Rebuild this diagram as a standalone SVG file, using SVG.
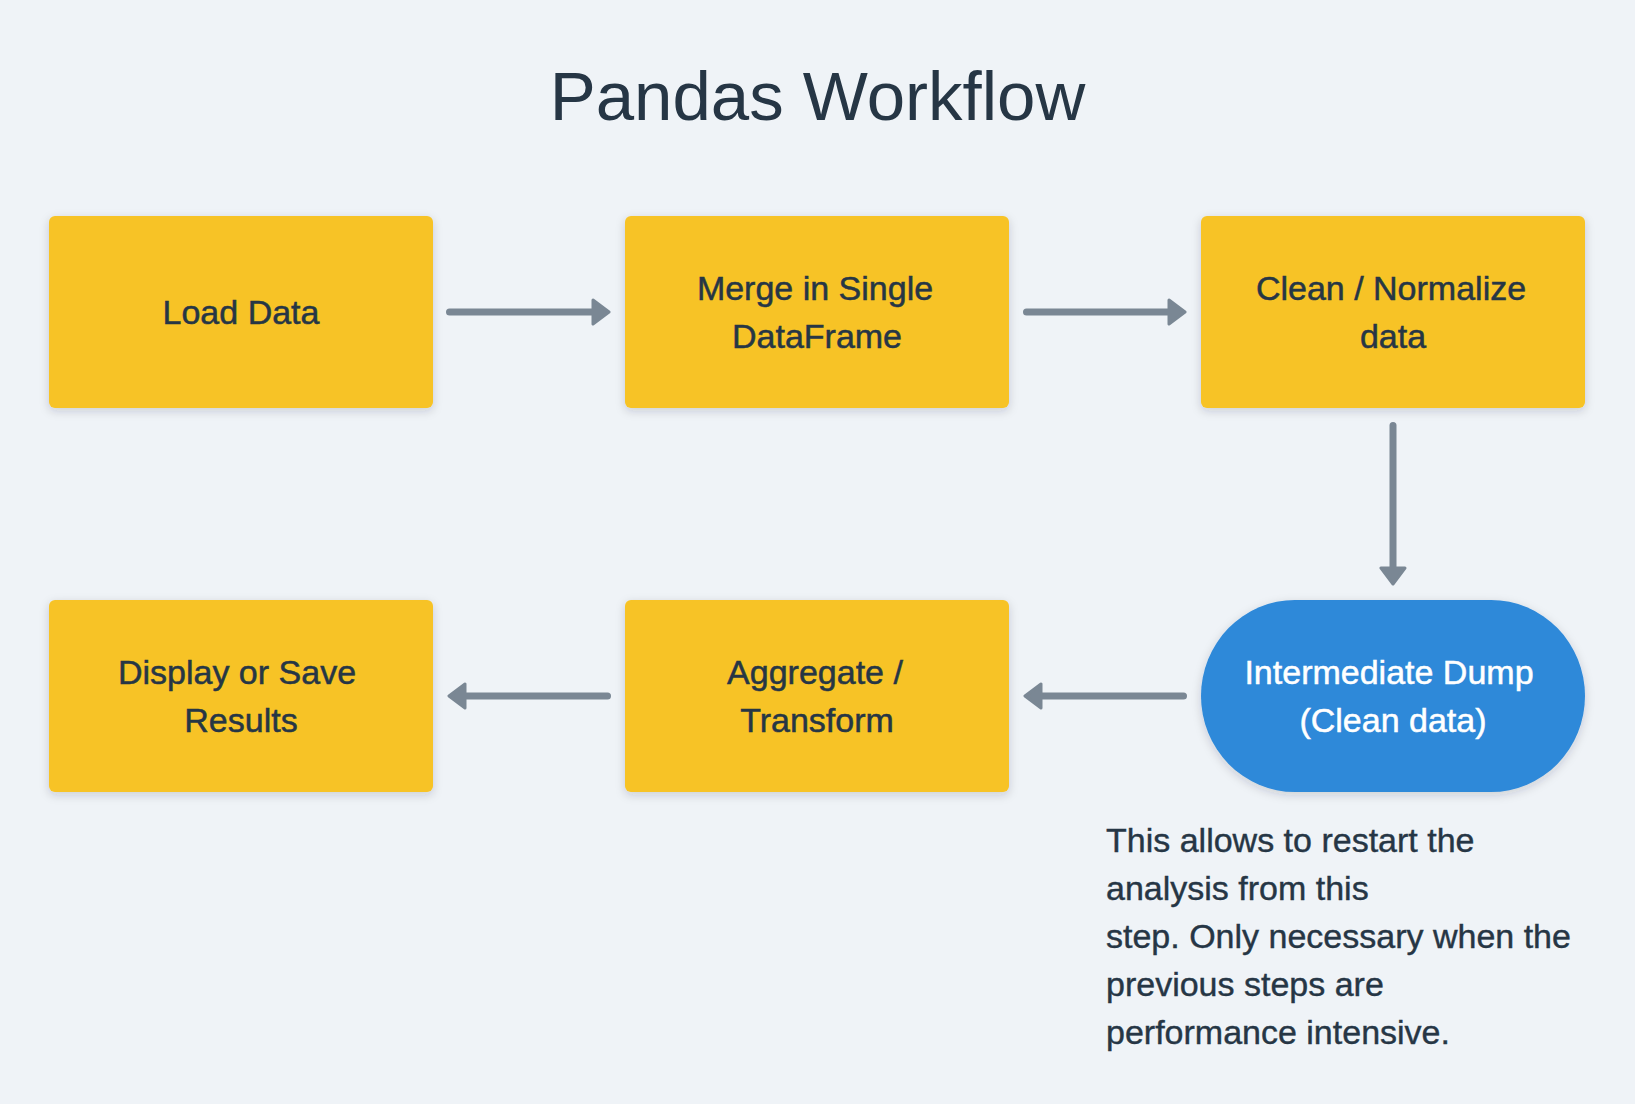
<svg xmlns="http://www.w3.org/2000/svg" width="1635" height="1104" viewBox="0 0 1635 1104">
  <style>
    .bg { fill: #eff3f7; }
    .box { fill: #f7c325; filter: url(#shadow); }
    .blue { fill: #2e89d9; filter: url(#shadow); }
    .title { font-family: "Liberation Sans", Arial, sans-serif; font-size: 69px; fill: #263645; text-anchor: middle; }
    .label { font-family: "Liberation Sans", Arial, sans-serif; font-size: 34px; fill: #263645; stroke: #263645; stroke-width: 0.5px; text-anchor: middle; }
    .label-w { font-family: "Liberation Sans", Arial, sans-serif; font-size: 34px; fill: #ffffff; stroke: #ffffff; stroke-width: 0.5px; text-anchor: middle; }
    .note { font-family: "Liberation Sans", Arial, sans-serif; font-size: 34px; fill: #263645; stroke: #263645; stroke-width: 0.4px; }
    .conn { stroke: #7a8794; stroke-width: 7; stroke-linecap: round; fill: none; marker-end: url(#arrow); }
  </style>
  <defs>
    <filter id="shadow" x="-10%" y="-10%" width="120%" height="130%">
      <feDropShadow dx="0" dy="3" stdDeviation="5" flood-color="#1e2a38" flood-opacity="0.18"/>
    </filter>
    <marker id="arrow" viewBox="0 0 20 28" markerWidth="20" markerHeight="28" markerUnits="userSpaceOnUse" refX="2" refY="14" orient="auto">
      <path d="M2,2 L18,14 L2,26 Z" fill="#7a8794" stroke="#7a8794" stroke-width="3" stroke-linejoin="round"/>
    </marker>
  </defs>
  <rect class="bg" x="0" y="0" width="1635" height="1104"/>
  <text class="title" x="817.5" y="120">Pandas Workflow</text>

  <g id="load-data">
    <rect class="box" x="49" y="216" width="384" height="192" rx="6"/>
    <text class="label" x="241" y="324">Load Data</text>
  </g>
  <g id="merge">
    <rect class="box" x="625" y="216" width="384" height="192" rx="6"/>
    <text class="label" x="815" y="300">Merge in Single</text>
    <text class="label" x="817" y="348">DataFrame</text>
  </g>
  <g id="clean">
    <rect class="box" x="1201" y="216" width="384" height="192" rx="6"/>
    <text class="label" x="1391" y="300">Clean / Normalize</text>
    <text class="label" x="1393" y="348">data</text>
  </g>
  <g id="dump">
    <rect class="blue" x="1201" y="600" width="384" height="192" rx="94" ry="96"/>
    <text class="label-w" x="1389" y="684">Intermediate Dump</text>
    <text class="label-w" x="1393" y="732">(Clean data)</text>
  </g>
  <g id="aggregate">
    <rect class="box" x="625" y="600" width="384" height="192" rx="6"/>
    <text class="label" x="815" y="684">Aggregate /</text>
    <text class="label" x="817" y="732">Transform</text>
  </g>
  <g id="display">
    <rect class="box" x="49" y="600" width="384" height="192" rx="6"/>
    <text class="label" x="237" y="684">Display or Save</text>
    <text class="label" x="241" y="732">Results</text>
  </g>
  <g id="note">
    <text class="note" x="1106" y="852">This allows to restart the</text>
    <text class="note" x="1106" y="900">analysis from this</text>
    <text class="note" x="1106" y="948">step. Only necessary when the</text>
    <text class="note" x="1106" y="996">previous steps are</text>
    <text class="note" x="1106" y="1044">performance intensive.</text>
  </g>

  <g id="connectors">
    <line class="conn" x1="449.5" y1="312" x2="593" y2="312"/>
    <line class="conn" x1="1026.5" y1="312" x2="1169" y2="312"/>
    <line class="conn" x1="1393" y1="425.5" x2="1393" y2="568"/>
    <line class="conn" x1="1183.5" y1="696" x2="1041" y2="696"/>
    <line class="conn" x1="607.5" y1="696" x2="465" y2="696"/>
  </g>
</svg>
